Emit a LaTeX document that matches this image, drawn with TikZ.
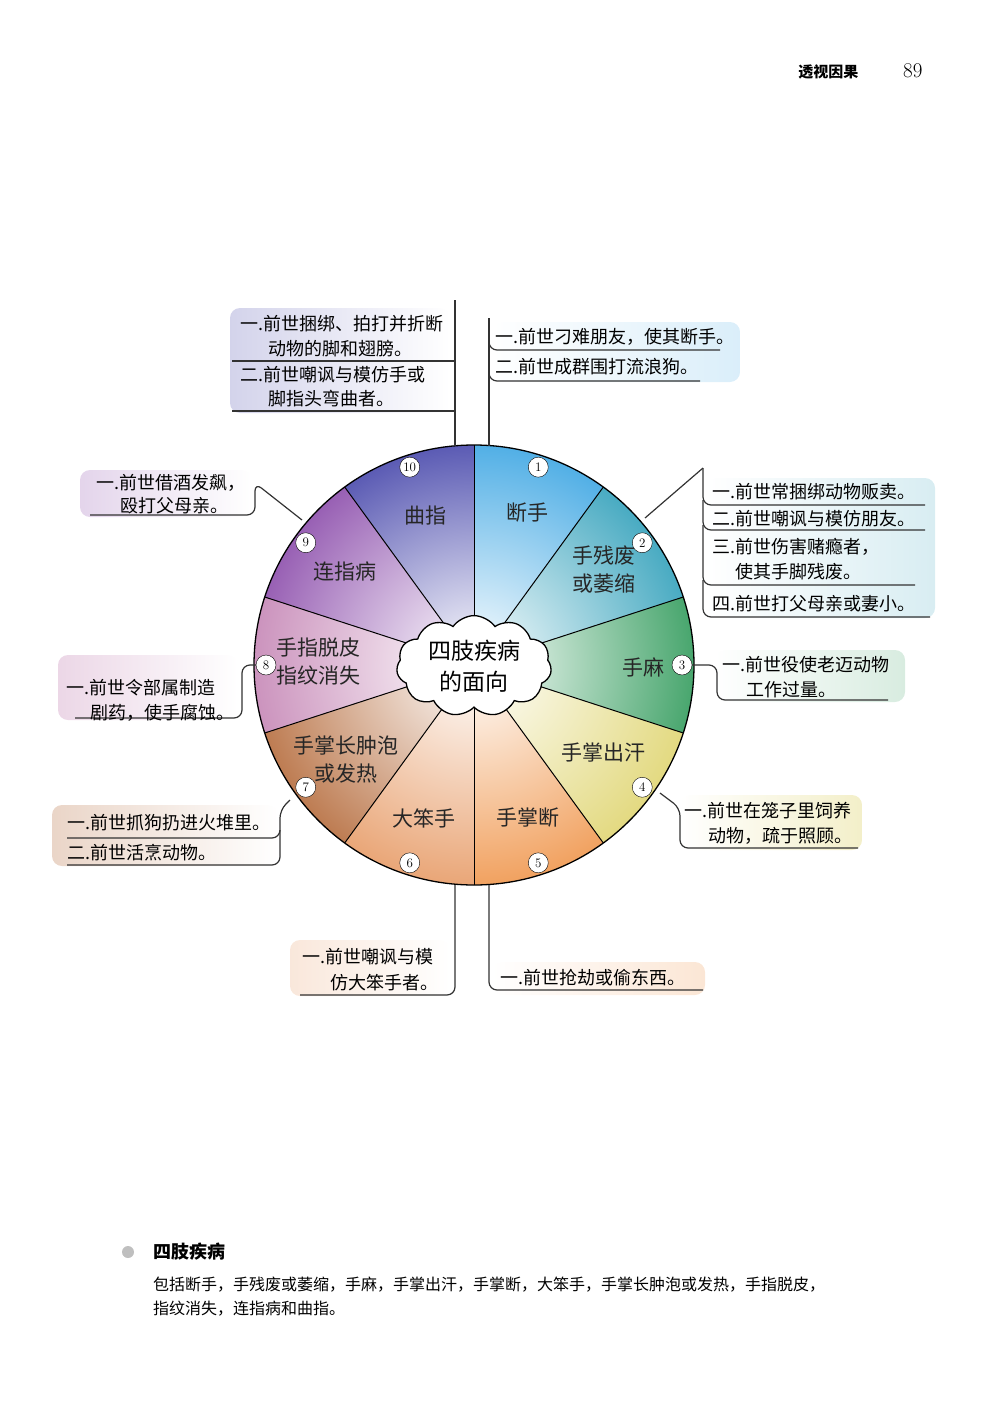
\documentclass[tikz,border=0pt]{standalone}
\usepackage{fontspec}
\newfontfamily\cjk{Noto Sans CJK SC}
\usetikzlibrary{shapes.symbols,calc}
\definecolor{cA}{RGB}{70,170,228}
\definecolor{cB}{RGB}{60,165,190}
\definecolor{cC}{RGB}{60,160,100}
\definecolor{cD}{RGB}{225,215,120}
\definecolor{cE}{RGB}{240,155,85}
\definecolor{cF}{RGB}{232,160,110}
\definecolor{cG}{RGB}{185,115,70}
\definecolor{cH}{RGB}{200,140,185}
\definecolor{cI}{RGB}{145,85,175}
\definecolor{cJ}{RGB}{80,80,175}
\tikzset{
 bt/.style={font=\cjk\fontsize{18}{20}\selectfont, inner sep=0pt, anchor=base west},
 seg/.style={font=\cjk\fontsize{21}{28}\selectfont, align=center, text=black!85},
 num/.style={circle, draw, fill=white, inner sep=0pt, minimum size=20pt, font=\fontsize{13}{13}\selectfont},
 ln/.style={line width=1.2pt, black!80, rounded corners=8pt},
}
\begin{document}
\begin{tikzpicture}[x=1pt,y=-1pt]
\useasboundingbox (0,0) rectangle (1000,1415);
% header
\node[font=\cjk\bfseries\fontsize{15}{15}\selectfont, anchor=base east] (hd) at (862,78) {透视因果};
\node[font=\fontsize{21}{21}\selectfont, anchor=base east] (pg) at (926,78) {89};
% box backgrounds
\shade[left color=cJ!25, right color=white, rounded corners=10pt] (230,308) rectangle (450,413);
\shade[left color=white, right color=cA!20, rounded corners=10pt] (493,322) rectangle (740,382);
\shade[left color=white, right color=cB!20, rounded corners=10pt] (706,478) rectangle (935,618);
\shade[left color=white, right color=cC!20, rounded corners=10pt] (715,650) rectangle (905,702);
\shade[left color=white, right color=cD!40, rounded corners=10pt] (680,795) rectangle (862,850);
\shade[left color=white, right color=cE!25, rounded corners=10pt] (492,962) rectangle (705,995);
\shade[left color=cF!25, right color=white, rounded corners=10pt] (290,940) rectangle (450,996);
\shade[left color=cG!30, right color=white, rounded corners=10pt] (52,805) rectangle (278,866);
\shade[left color=cH!35, right color=white, rounded corners=10pt] (58,655) rectangle (238,720);
\shade[left color=cI!25, right color=white, rounded corners=10pt] (80,470) rectangle (252,517);
% wheel
\coordinate (O) at (474,665);
\foreach \i/\c in {1/cA,2/cB,3/cC,4/cD,5/cE,6/cF,7/cG,8/cH,9/cI,10/cJ}{
  \pgfmathsetmacro\a{90-36*(\i-1)}
  \pgfmathsetmacro\b{90-36*\i}
  \begin{scope}
   \clip (474,665) -- ++(\a:220 and -220) arc[start angle=\a, end angle=\b, x radius=220, y radius=-220] -- cycle;
   \shade[inner color=white, outer color=\c] (474,665) circle[radius=235];
  \end{scope}
  \draw[line width=1pt] (474,665) -- ++(\a:220 and -220);
}
\draw[line width=1.3pt] (O) circle[radius=220];
\node[cloud, cloud puffs=11, cloud puff arc=110, aspect=1.7, draw, line width=1.3pt, fill=white, minimum width=155pt, minimum height=95pt, font=\cjk\fontsize{23}{31}\selectfont, align=center] (cl) at (474,666) {四肢疾病\\的面向};
% segment labels
\node[seg] (s1) at (527,513) {断手};
\node[seg] (s2) at (604,570) {手残废\\或萎缩};
\node[seg] (s3) at (643,667) {手麻};
\node[seg] (s4) at (603,753) {手掌出汗};
\node[seg] (s5) at (528,818) {手掌断};
\node[seg] (s6) at (424,818) {大笨手};
\node[seg] (s7) at (346,760) {手掌长肿泡\\或发热};
\node[seg] (s8) at (318,662) {手指脱皮\\指纹消失};
\node[seg] (s9) at (345,572) {连指病};
\node[seg] (s10) at (425,516) {曲指};
% numbers
\foreach \i in {1,...,10}{
  \pgfmathsetmacro\m{72-36*(\i-1)}
  \node[num] (n\i) at ($(474,665)+(\m:208 and -208)$) {\i};
}
% connectors
\coordinate (t10) at (455,300); \coordinate (r10) at (455,446);
\draw[ln] (t10) -- (r10);
\draw[ln] (232,361) -- (455,361);
\draw[ln] (232,411) -- (455,411);
\coordinate (t1) at (489,318); \coordinate (r1) at (489,446);
\draw[ln] (t1) -- (r1);
\draw[ln] (489,320) -- (489,350) -- (720,350);
\draw[ln] (489,350) -- (489,381) -- (700,381);
% 2
\coordinate (p2) at (645,518); \coordinate (k2) at (703,468);
\draw[ln,rounded corners=0pt] (p2) -- (k2);
\draw[ln] (k2) -- (703,505) -- (925,505);
\draw[ln] (703,500) -- (703,530) -- (925,530);
\draw[ln] (703,525) -- (703,585) -- (915,585);
\draw[ln] (703,580) -- (703,617) -- (930,617);
% 3
\draw[ln] (n3.east) -- (717,665) -- (717,700) -- (888,700);
% 4
\coordinate (p4) at (660,793);
\draw[ln] (p4) -- (680,808) -- (680,848) -- (858,848);
% 5
\draw[ln] (489,885) -- (489,990) -- (703,990);
% 6
\draw[ln] (455,885) -- (455,995) -- (300,995);
% 7
\coordinate (p7) at (290,800);
\draw[ln] (p7) -- (280,810) -- (280,838) -- (67,838);
\draw[ln] (280,830) -- (280,865) -- (67,865);
% 8
\draw[ln] (n8.west) -- (242,665) -- (242,718) -- (75,718);
% 9
\coordinate (p9) at (302,520);
\draw[ln] (p9) -- (255,483) -- (255,515) -- (90,515);
% box texts
\node[bt] (a1) at (240,330) {一.前世捆绑、拍打并折断};
\node[bt] (a2) at (268,355) {动物的脚和翅膀。};
\node[bt] (a3) at (240,381) {二.前世嘲讽与模仿手或};
\node[bt] (a4) at (268,405) {脚指头弯曲者。};
\node[bt] (b1) at (495,343) {一.前世刁难朋友，使其断手。};
\node[bt] (b2) at (495,373) {二.前世成群围打流浪狗。};
\node[bt] (c1) at (712,498) {一.前世常捆绑动物贩卖。};
\node[bt] (c2) at (712,525) {二.前世嘲讽与模仿朋友。};
\node[bt] (c3) at (712,553) {三.前世伤害赌瘾者，};
\node[bt] (c4) at (735,578) {使其手脚残废。};
\node[bt] (c5) at (712,610) {四.前世打父母亲或妻小。};
\node[bt] (d1) at (722,671) {一.前世役使老迈动物};
\node[bt] (d2) at (746,696) {工作过量。};
\node[bt] (e1) at (684,817) {一.前世在笼子里饲养};
\node[bt] (e2) at (708,842) {动物，疏于照顾。};
\node[bt] (f1) at (500,984) {一.前世抢劫或偷东西。};
\node[bt] (g1) at (302,963) {一.前世嘲讽与模};
\node[bt] (g2) at (330,989) {仿大笨手者。};
\node[bt] (h1) at (67,829) {一.前世抓狗扔进火堆里。};
\node[bt] (h2) at (67,859) {二.前世活烹动物。};
\node[bt] (i1) at (66,694) {一.前世令部属制造};
\node[bt] (i2) at (90,719) {剧药，使手腐蚀。};
\node[bt] (j1) at (96,489) {一.前世借酒发飙，};
\node[bt] (j2) at (120,512) {殴打父母亲。};
% footer
\fill[black!25] (128,1252) circle[radius=6];
\node[font=\cjk\bfseries\fontsize{18}{18}\selectfont, anchor=base west] (ft) at (150,1258) {四肢疾病};
\node[font=\cjk\fontsize{16}{24}\selectfont, anchor=north west, align=left, text width=800pt, inner sep=0pt] (fp) at (153,1277) {包括断手，手残废或萎缩，手麻，手掌出汗，手掌断，大笨手，手掌长肿泡或发热，手指脱皮，\\指纹消失，连指病和曲指。};
\end{tikzpicture}
\end{document}
